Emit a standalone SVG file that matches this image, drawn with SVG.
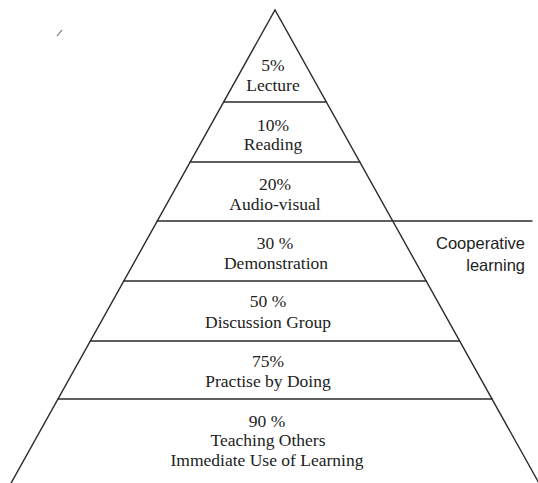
<svg xmlns="http://www.w3.org/2000/svg" width="538" height="483" viewBox="0 0 538 483">
  <style>
    .edge { stroke: #2b2b2b; stroke-width: 1.4; fill: none; stroke-linecap: round; }
    .lbl { font-family: "Liberation Serif", "Times New Roman", serif; font-size: 17.5px; fill: #222; text-anchor: middle; }
    .side { font-family: "Liberation Sans", Arial, sans-serif; font-size: 16.5px; fill: #222; text-anchor: end; }
  </style>
  <rect width="538" height="483" fill="#ffffff"/>

  <!-- pyramid outline and tier dividers -->
  <g id="connectors">
    <polyline class="edge" points="10,485 275,10 540,485"/>
    <line class="edge" x1="223.7" y1="102" x2="326.3" y2="102"/>
    <line class="edge" x1="190.2" y1="162" x2="359.8" y2="162"/>
    <line class="edge" x1="157.3" y1="221" x2="532" y2="221"/>
    <line class="edge" x1="123.8" y1="281" x2="426.2" y2="281"/>
    <line class="edge" x1="90.3" y1="341" x2="459.7" y2="341"/>
    <line class="edge" x1="57.9" y1="399" x2="492.1" y2="399"/>
    <line x1="57" y1="36" x2="62" y2="30" stroke="#8a8a8a" stroke-width="1.2"/>
  </g>

  <g id="tier-lecture">
    <text class="lbl" x="273" y="70.5">5%</text>
    <text class="lbl" x="273" y="90.5">Lecture</text>
  </g>
  <g id="tier-reading">
    <text class="lbl" x="273" y="131">10%</text>
    <text class="lbl" x="273" y="149.5">Reading</text>
  </g>
  <g id="tier-audio-visual">
    <text class="lbl" x="275" y="190">20%</text>
    <text class="lbl" x="275" y="209.5">Audio-visual</text>
  </g>
  <g id="tier-demonstration">
    <text class="lbl" x="275" y="249">30 %</text>
    <text class="lbl" x="276" y="268.5">Demonstration</text>
  </g>
  <g id="tier-discussion">
    <text class="lbl" x="268" y="307">50 %</text>
    <text class="lbl" x="268" y="328">Discussion Group</text>
  </g>
  <g id="tier-practise">
    <text class="lbl" x="268" y="367">75%</text>
    <text class="lbl" x="268" y="387">Practise by Doing</text>
  </g>
  <g id="tier-teaching">
    <text class="lbl" x="267" y="426.5">90 %</text>
    <text class="lbl" x="268" y="446">Teaching Others</text>
    <text class="lbl" x="267" y="466">Immediate Use of Learning</text>
  </g>

  <g id="cooperative-learning">
    <text class="side" x="525" y="249">Cooperative</text>
    <text class="side" x="525" y="271">learning</text>
  </g>
</svg>
